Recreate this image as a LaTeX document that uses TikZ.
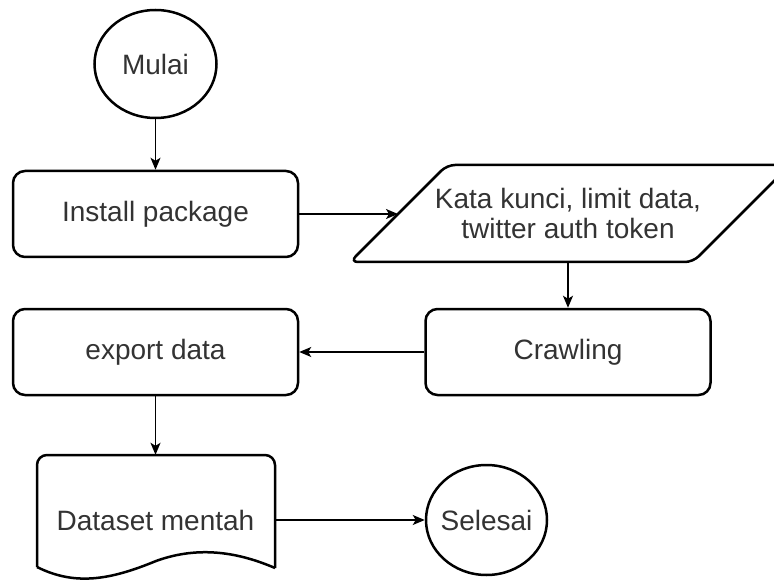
\documentclass[tikz,border=0pt]{standalone}
\usepackage{fontspec}
\setmainfont{Liberation Sans}
\usetikzlibrary{arrows.meta,shapes.geometric}

\tikzset{
  label text/.style={font=\fontsize{28}{30}\selectfont, text=black!80},
  procbox/.style={draw, line width=2.5pt, rounded corners=12pt, inner sep=0pt,
    minimum width=285pt, minimum height=86pt, label text},
  terminal/.style={draw, ellipse, line width=2.5pt, inner sep=0pt, label text},
  flow/.style={-{Stealth[length=12pt,width=10pt,inset=3pt]}, line width=1.5pt},
}

\begin{document}
\begin{tikzpicture}[x=1pt, y=-1pt]

    \clip (0,0) rectangle (774,580);
    \fill[white] (0,0) rectangle (774,580);

    \node[terminal, minimum width=122pt, minimum height=108pt] (mulai) at (155.5,64) {Mulai};
    \node[procbox] (install) at (155.5,214) {Install package};

    % input (jajar genjang)
    \draw[line width=2.5pt, rounded corners=8pt] (350,262) -- (447,165) -- (790,165) -- (693,262) -- cycle;
    \node[label text, align=center, inner sep=0pt] (input) at (568,213.5) {Kata kunci, limit data,\\twitter auth token};
    \coordinate (inputleft) at (398,214);
    \coordinate (inputbottom) at (568,262);

    \node[procbox] (crawling) at (568,352) {Crawling};
    \node[procbox] (export) at (155.5,352) {export data};

    % dokumen
    \draw[line width=2.5pt, rounded corners=10pt] (37,567) -- (37,455) -- (275,455) -- (275,568);
    \draw[line width=2.5pt] (37,567) .. controls (75,586) and (110,580) .. (156,561)
        .. controls (200,545) and (240,553) .. (275,568);
    \node[label text, minimum width=238pt, minimum height=130pt, inner sep=0pt] (dataset) at (155.5,520) {Dataset mentah};

    \node[terminal, inner xsep=-4pt, minimum width=121pt, minimum height=110pt] (selesai) at (486.5,520) {Selesai};

    \draw[flow] (mulai.south) -- (install.north);
    \draw[flow] (install.east) -- (inputleft);
    \draw[flow] (inputbottom) -- (crawling.north);
    \draw[flow] (crawling.west) -- (export.east);
    \draw[flow] (export.south) -- (dataset.north);
    \draw[flow] (dataset.east) -- (selesai.west);

\end{tikzpicture}
\end{document}
